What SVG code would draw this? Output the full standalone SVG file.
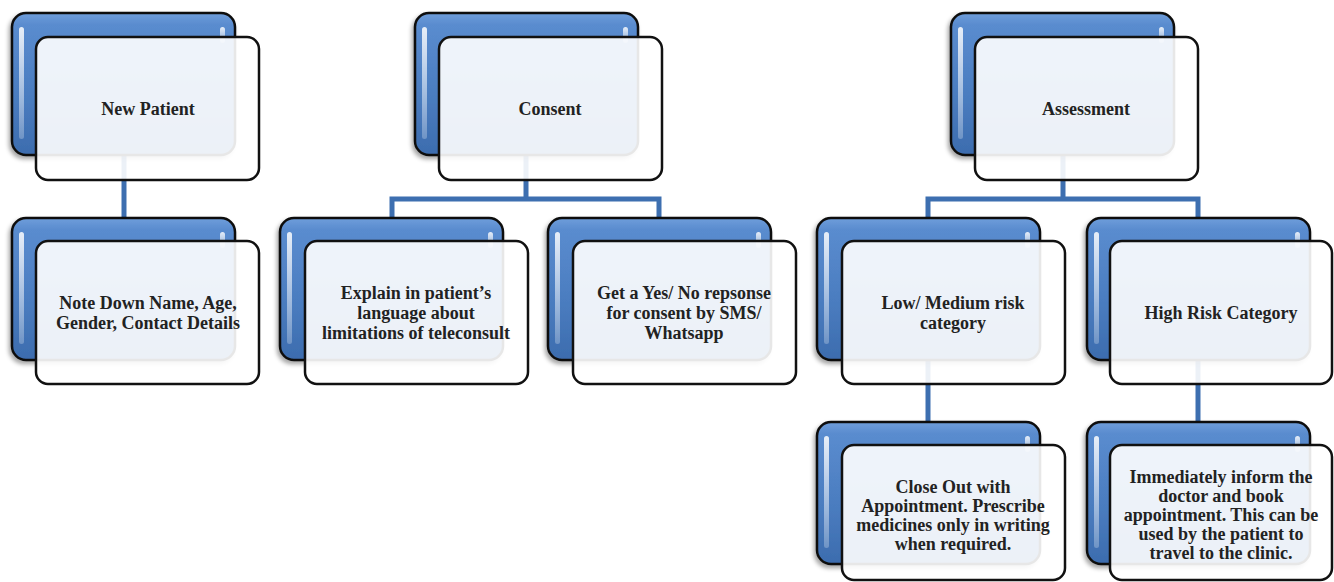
<svg xmlns="http://www.w3.org/2000/svg" width="1334" height="582" viewBox="0 0 1334 582">
<defs>
<linearGradient id="gBack" x1="0" y1="0" x2="0" y2="1">
<stop offset="0" stop-color="#6f9edb"/>
<stop offset="0.08" stop-color="#5a8ccf"/>
<stop offset="0.6" stop-color="#4a7cbf"/>
<stop offset="1" stop-color="#3c6cae"/>
</linearGradient>
<linearGradient id="gHi" x1="0" y1="0" x2="0" y2="1">
<stop offset="0" stop-color="#ffffff" stop-opacity="0.85"/>
<stop offset="1" stop-color="#ffffff" stop-opacity="0.25"/>
</linearGradient>
<filter id="shadow" x="-10%" y="-10%" width="120%" height="125%">
<feDropShadow dx="-2" dy="3" stdDeviation="2" flood-color="#000" flood-opacity="0.35"/>
</filter>
</defs>
<style>
.back{fill:url(#gBack);stroke:#111;stroke-width:2.5;filter:url(#shadow)}
.hi{fill:url(#gHi)}
.front{fill:#ffffff;fill-opacity:0.9;stroke:#111;stroke-width:2.5}
.conn{fill:none;stroke:#3d6fb0;stroke-width:5}
text{font-family:"Liberation Serif","Times New Roman",serif;font-size:18px;font-weight:bold;fill:#222;text-anchor:middle}
</style>
<rect width="1334" height="582" fill="#ffffff"/>
<g id="connectors">
<path class="conn" d="M124,155V218"/>
<path class="conn" d="M526,155V199M392,218V199H659V218"/>
<path class="conn" d="M1063,155V199M928,218V199H1198V218"/>
<path class="conn" d="M928,360V422"/>
<path class="conn" d="M1198,360V422"/>
</g>
<g id="n-new-patient">
<rect class="back" x="12" y="13" width="223" height="142" rx="14"/>
<rect class="hi" x="19" y="27" width="5" height="112" rx="2.5"/><rect class="hi" x="220" y="27" width="5" height="16" rx="2.5"/>
<rect class="front" x="36" y="37" width="223" height="143" rx="12"/>
<text x="148" y="115">New Patient</text>
</g>
<g id="n-note-down">
<rect class="back" x="12" y="218" width="223" height="142" rx="14"/>
<rect class="hi" x="19" y="232" width="5" height="112" rx="2.5"/><rect class="hi" x="220" y="232" width="5" height="16" rx="2.5"/>
<rect class="front" x="36" y="241" width="223" height="143" rx="12"/>
<text x="148" y="309">Note Down Name, Age,</text>
<text x="148" y="329">Gender, Contact Details</text>
</g>
<g id="n-consent">
<rect class="back" x="415" y="13" width="223" height="142" rx="14"/>
<rect class="hi" x="422" y="27" width="5" height="112" rx="2.5"/><rect class="hi" x="623" y="27" width="5" height="16" rx="2.5"/>
<rect class="front" x="439" y="37" width="223" height="143" rx="12"/>
<text x="550" y="115">Consent</text>
</g>
<g id="n-explain">
<rect class="back" x="280" y="218" width="223" height="142" rx="14"/>
<rect class="hi" x="287" y="232" width="5" height="112" rx="2.5"/><rect class="hi" x="488" y="232" width="5" height="16" rx="2.5"/>
<rect class="front" x="305" y="241" width="223" height="143" rx="12"/>
<text x="416" y="299">Explain in patient’s</text>
<text x="416" y="319">language about</text>
<text x="416" y="339">limitations of teleconsult</text>
</g>
<g id="n-get-yes-no">
<rect class="back" x="548" y="218" width="223" height="142" rx="14"/>
<rect class="hi" x="555" y="232" width="5" height="112" rx="2.5"/><rect class="hi" x="756" y="232" width="5" height="16" rx="2.5"/>
<rect class="front" x="573" y="241" width="223" height="143" rx="12"/>
<text x="684" y="299">Get a Yes/ No repsonse</text>
<text x="684" y="319">for consent by SMS/</text>
<text x="684" y="339">Whatsapp</text>
</g>
<g id="n-assessment">
<rect class="back" x="951" y="13" width="223" height="142" rx="14"/>
<rect class="hi" x="958" y="27" width="5" height="112" rx="2.5"/><rect class="hi" x="1159" y="27" width="5" height="16" rx="2.5"/>
<rect class="front" x="975" y="37" width="223" height="143" rx="12"/>
<text x="1086" y="115">Assessment</text>
</g>
<g id="n-low-medium">
<rect class="back" x="817" y="218" width="223" height="142" rx="14"/>
<rect class="hi" x="824" y="232" width="5" height="112" rx="2.5"/><rect class="hi" x="1025" y="232" width="5" height="16" rx="2.5"/>
<rect class="front" x="842" y="241" width="223" height="143" rx="12"/>
<text x="953" y="309">Low/ Medium risk</text>
<text x="953" y="329">category</text>
</g>
<g id="n-high-risk">
<rect class="back" x="1087" y="218" width="223" height="142" rx="14"/>
<rect class="hi" x="1094" y="232" width="5" height="112" rx="2.5"/><rect class="hi" x="1295" y="232" width="5" height="16" rx="2.5"/>
<rect class="front" x="1110" y="241" width="222" height="143" rx="12"/>
<text x="1221" y="319">High Risk Category</text>
</g>
<g id="n-close-out">
<rect class="back" x="817" y="422" width="223" height="142" rx="14"/>
<rect class="hi" x="824" y="436" width="5" height="112" rx="2.5"/><rect class="hi" x="1025" y="436" width="5" height="16" rx="2.5"/>
<rect class="front" x="842" y="445" width="223" height="135" rx="12"/>
<text x="953" y="493">Close Out with</text>
<text x="953" y="512">Appointment. Prescribe</text>
<text x="953" y="531">medicines only in writing</text>
<text x="953" y="550">when required.</text>
</g>
<g id="n-immediately">
<rect class="back" x="1087" y="422" width="223" height="142" rx="14"/>
<rect class="hi" x="1094" y="436" width="5" height="112" rx="2.5"/><rect class="hi" x="1295" y="436" width="5" height="16" rx="2.5"/>
<rect class="front" x="1110" y="445" width="222" height="135" rx="12"/>
<text x="1221" y="483">Immediately inform the</text>
<text x="1221" y="502">doctor and book</text>
<text x="1221" y="521">appointment. This can be</text>
<text x="1221" y="540">used by the patient to</text>
<text x="1221" y="559">travel to the clinic.</text>
</g>
</svg>
